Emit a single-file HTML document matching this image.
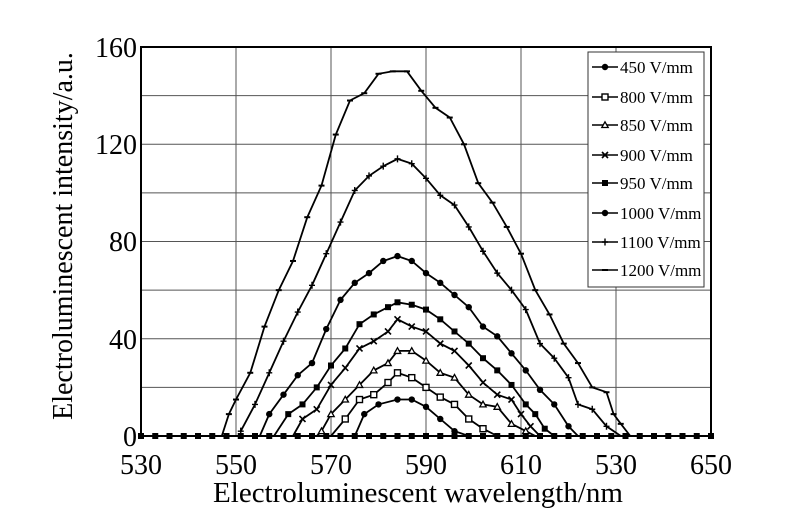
<!DOCTYPE html>
<html><head><meta charset="utf-8"><style>
body{margin:0;background:#fff;width:800px;height:511px;overflow:hidden}
svg{position:absolute;left:0;top:0}
text{font-family:"Liberation Serif",serif;fill:#000}
</style></head><body>
<svg id="s" width="800" height="511" viewBox="0 0 800 511" xmlns="http://www.w3.org/2000/svg">
<g id="grid" stroke="#555" stroke-width="1"></g>
<rect x="141" y="47" width="570" height="389" fill="none" stroke="#000" stroke-width="2"/>
<g id="curves" fill="none" stroke="#000" stroke-width="1.8"></g>
<g id="marks"></g>
<rect x="588" y="52" width="116" height="235" fill="#fff" stroke="#333" stroke-width="1"/>
<g id="leg" font-size="17"></g>
<g font-size="28" text-anchor="end">
<text x="137" y="446">0</text><text x="137" y="349">40</text><text x="137" y="251">80</text><text x="137" y="154">120</text><text x="137" y="57">160</text>
</g>
<g font-size="28" text-anchor="middle">
<text x="141" y="474">530</text><text x="236" y="474">550</text><text x="331" y="474">570</text><text x="426" y="474">590</text><text x="521" y="474">610</text><text x="616" y="474">530</text><text x="711" y="474">650</text>
</g>
<text x="418" y="502" font-size="29" text-anchor="middle">Electroluminescent wavelength/nm</text>
<text transform="translate(72,236) rotate(-90)" font-size="28" text-anchor="middle">Electroluminescent intensity/a.u.</text>
</svg>
<script>
const NS="http://www.w3.org/2000/svg";
const X=n=>141+(n-530)*4.75, Y=v=>436-v*2.431;
function el(t,a,p){const e=document.createElementNS(NS,t);for(const k in a)e.setAttribute(k,a[k]);p.appendChild(e);return e;}
const g=document.getElementById('grid');
[550,570,590,610,630].forEach(n=>el('line',{x1:X(n),x2:X(n),y1:47,y2:436},g));
for(let v=20;v<160;v+=20)el('line',{x1:141,x2:711,y1:Y(v),y2:Y(v)},g);
const D={
450:[[575,0],[577,9],[580,13],[584,15],[587,15],[590,12],[593,7],[596,2],[599,0]],
800:[[570,0],[573,7],[576,15],[579,17],[582,22],[584,26],[587,24],[590,20],[593,16],[596,13],[599,7],[602,3],[605,0]],
850:[[567,0],[568,2],[570,9],[573,15],[576,21],[579,27],[582,30],[584,35],[587,35],[590,31],[593,26],[596,24],[599,17],[602,13],[605,12],[608,5],[611,2],[613,0]],
900:[[562,0],[564,7],[567,11],[570,21],[573,28],[576,36],[579,39],[582,43],[584,48],[587,45],[590,43],[593,38],[596,35],[599,29],[602,22],[605,17],[608,15],[610,9],[612,4],[614,0]],
950:[[558,0],[561,9],[564,13],[567,20],[570,29],[573,36],[576,46],[579,50],[582,53],[584,55],[587,54],[590,52],[593,48],[596,43],[599,38],[602,32],[605,27],[608,21],[611,13],[613,9],[615,3],[617,0]],
1000:[[555,0],[557,9],[560,17],[563,25],[566,30],[569,44],[572,56],[575,63],[578,67],[581,72],[584,74],[587,72],[590,67],[593,63],[596,58],[599,53],[602,45],[605,41],[608,34],[611,27],[614,19],[617,13],[620,4],[622,0]],
1100:[[551,2],[554,13],[557,26],[560,39],[563,51],[566,62],[569,75],[572,88],[575,101],[578,107],[581,111],[584,114],[587,112],[590,106],[593,99],[596,95],[599,86],[602,76],[605,67],[608,60],[611,52],[614,38],[617,32],[620,24],[622,13],[625,11],[628,4],[631,0]],
1200:[[547,0],[548.5,9],[550,15],[553,26],[556,45],[559,60],[562,72],[565,90],[568,103],[571,124],[574,138],[577,141],[580,149],[583,150],[586,150],[589,142],[592,135],[595,131],[598,120],[601,104],[604,96],[607,86],[610,75],[613,60],[616,50],[619,38],[622,30],[625,20],[628,18],[629.5,9],[631,5],[633,0]]};
const keys=[450,800,850,900,950,1000,1100,1200];
const shapes={450:'c',800:'s',850:'t',900:'x',950:'S',1000:'c',1100:'p',1200:'d'};
const cg=document.getElementById('curves'),mg=document.getElementById('marks');
function mark(x,y,sh,p){
 if(sh==='c')el('circle',{cx:x,cy:y,r:3.2,fill:'#000'},p);
 else if(sh==='s')el('rect',{x:x-3,y:y-3,width:6,height:6,fill:'#fff',stroke:'#000','stroke-width':1.4},p);
 else if(sh==='S')el('rect',{x:x-3,y:y-3,width:6,height:6,fill:'#000'},p);
 else if(sh==='t')el('path',{d:`M${x-3.2},${y+2.5}L${x},${y-3.2}L${x+3.2},${y+2.5}Z`,fill:'#fff',stroke:'#000','stroke-width':1.3},p);
 else if(sh==='x')el('path',{d:`M${x-3},${y-3}L${x+3},${y+3}M${x+3},${y-3}L${x-3},${y+3}`,stroke:'#000','stroke-width':1.6},p);
 else if(sh==='p')el('path',{d:`M${x-3},${y}L${x+3},${y}M${x},${y-3.5}L${x},${y+3.5}`,stroke:'#000','stroke-width':1.4},p);
 else el('path',{d:`M${x-3},${y}L${x+3},${y}`,stroke:'#000','stroke-width':2},p);
}
keys.forEach(k=>{
 const pts=D[k];
 el('path',{d:'M'+pts.map(p=>X(p[0]).toFixed(1)+','+Y(p[1]).toFixed(1)).join('L')},cg);
 pts.forEach(p=>{if(p[1]>0)mark(X(p[0]),Y(p[1]),shapes[k],mg);});
});
el('line',{x1:141,x2:711,y1:436,y2:436,stroke:'#000','stroke-width':2},mg);
for(let n=530;n<=650;n+=3)el('rect',{x:X(n)-3,y:433,width:6,height:6,fill:'#000'},mg);
const lg=document.getElementById('leg');
const ly=[67,97,125,155,183,213,242,270];
keys.forEach((k,i)=>{
 el('line',{x1:592,x2:618,y1:ly[i],y2:ly[i],stroke:'#000','stroke-width':1.5},lg);
 mark(605,ly[i],shapes[k],lg);
 const t=el('text',{x:620,y:ly[i]+6},lg);t.textContent=k+' V/mm';
});
</script>
</body></html>
